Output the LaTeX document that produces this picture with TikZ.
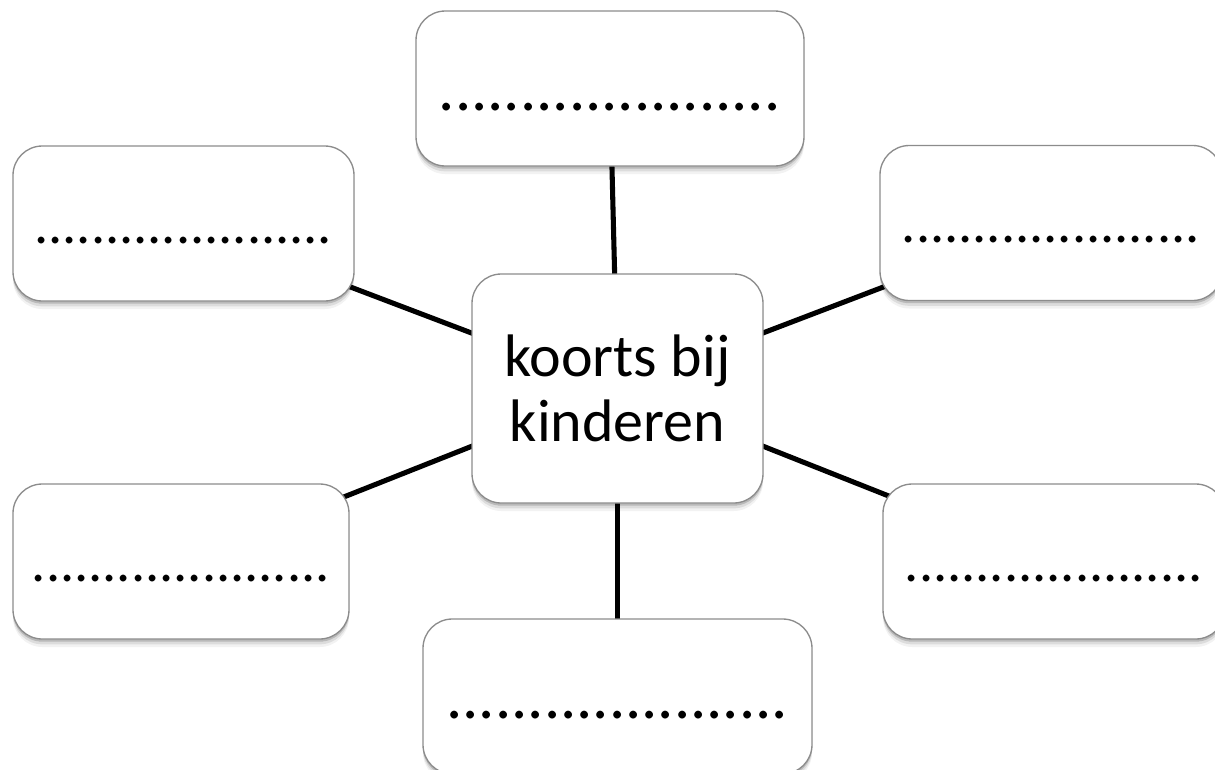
\documentclass[tikz,border=0pt]{standalone}
\usepackage{fontspec}
\setmainfont{Carlito}
\usetikzlibrary{shadows,backgrounds}
\tikzset{
  px/.style={x=0.75pt,y=-0.75pt},
  box/.style={draw=black!45, line width=1pt, fill=white, rounded corners=22pt,
    inner sep=0pt, outer sep=0pt, minimum height=116.25pt, align=center,
    drop shadow={shadow xshift=0pt,shadow yshift=-2pt,opacity=.16,fill=black},
    drop shadow={shadow xshift=0pt,shadow yshift=-4pt,opacity=.09,fill=black},
    drop shadow={shadow xshift=0pt,shadow yshift=-6pt,opacity=.05,fill=black}},
  bigdots/.style={box, font=\fontsize{48.4pt}{50pt}\selectfont, text height=33.5pt, text depth=0pt},
  smalldots/.style={box, font=\fontsize{42.2pt}{44pt}\selectfont, text height=29.5pt, text depth=0pt},
  link/.style={line width=3.8pt, black}
}
\begin{document}
\begin{tikzpicture}[px]
\useasboundingbox (0,0) rectangle (1215,769);
\node[box, minimum width=218.25pt, minimum height=171.75pt,
      font=\fontsize{45pt}{48.75pt}\selectfont] (center) at (617.5,388.5) {koorts bij\\kinderen};
\node[bigdots, minimum width=291pt] (top) at (610,88.5) {.....................};
\node[bigdots, minimum width=291.75pt] (bottom) at (617.5,696.5) {.....................};
\node[smalldots, minimum width=255.75pt] (lt) at (183.5,223.5) {.....................};
\node[smalldots, minimum width=252pt] (lb) at (181,561.5) {.....................};
\node[smalldots, minimum width=256.5pt] (rt) at (1051,223) {.....................};
\node[smalldots, minimum width=256.5pt] (rb) at (1054,561.5) {.....................};
\begin{pgfonlayer}{background}
\draw[link] (center.center) -- (top.center);
\draw[link] (center.center) -- (bottom.center);
\draw[link] (center.center) -- (lt.center);
\draw[link] (center.center) -- (lb.center);
\draw[link] (center.center) -- (rt.center);
\draw[link] (center.center) -- (rb.center);
\end{pgfonlayer}
\end{tikzpicture}
\end{document}
